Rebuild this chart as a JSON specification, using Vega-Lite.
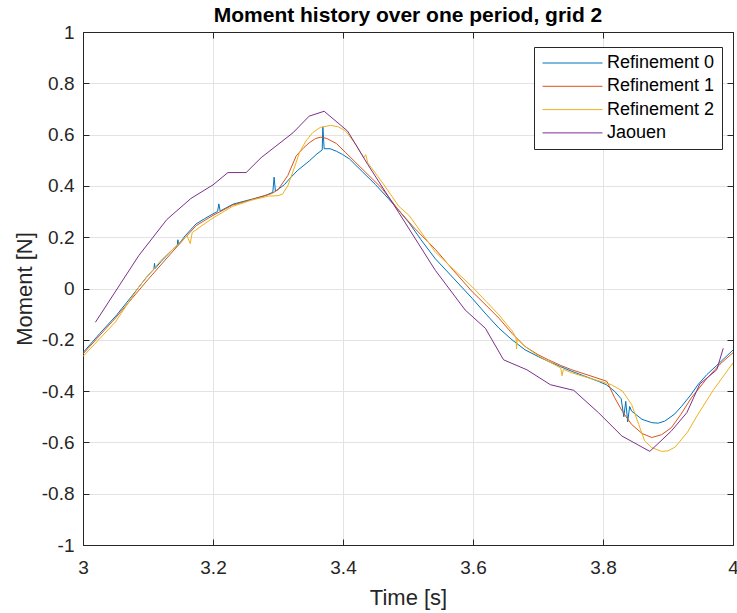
{
  "$schema": "https://vega.github.io/schema/vega-lite/v6.json",
  "width": 650,
  "height": 513,
  "autosize": {"type": "none"},
  "padding": {"left": 83, "top": 32, "right": 4, "bottom": 68},
  "title": {"text": "Moment history over one period, grid 2", "fontSize": 21, "fontWeight": "bold", "font": "Liberation Sans", "color": "#000000", "offset": -3, "anchor": "middle"},
  "config": {"view": {"stroke": "#262626", "strokeWidth": 1}, "font": "Liberation Sans"},
  "data": {"values": [
    {"s":"Refinement 0","t":3.000,"m":-0.250},
    {"s":"Refinement 0","t":3.026,"m":-0.175},
    {"s":"Refinement 0","t":3.052,"m":-0.103},
    {"s":"Refinement 0","t":3.075,"m":-0.030},
    {"s":"Refinement 0","t":3.098,"m":0.045},
    {"s":"Refinement 0","t":3.109,"m":0.075},
    {"s":"Refinement 0","t":3.110,"m":0.098},
    {"s":"Refinement 0","t":3.111,"m":0.078},
    {"s":"Refinement 0","t":3.120,"m":0.105},
    {"s":"Refinement 0","t":3.139,"m":0.155},
    {"s":"Refinement 0","t":3.145,"m":0.168},
    {"s":"Refinement 0","t":3.146,"m":0.190},
    {"s":"Refinement 0","t":3.147,"m":0.172},
    {"s":"Refinement 0","t":3.157,"m":0.205},
    {"s":"Refinement 0","t":3.174,"m":0.252},
    {"s":"Refinement 0","t":3.187,"m":0.272},
    {"s":"Refinement 0","t":3.200,"m":0.291},
    {"s":"Refinement 0","t":3.207,"m":0.300},
    {"s":"Refinement 0","t":3.209,"m":0.330},
    {"s":"Refinement 0","t":3.211,"m":0.302},
    {"s":"Refinement 0","t":3.231,"m":0.329},
    {"s":"Refinement 0","t":3.261,"m":0.349},
    {"s":"Refinement 0","t":3.280,"m":0.362},
    {"s":"Refinement 0","t":3.292,"m":0.375},
    {"s":"Refinement 0","t":3.294,"m":0.434},
    {"s":"Refinement 0","t":3.296,"m":0.380},
    {"s":"Refinement 0","t":3.301,"m":0.388},
    {"s":"Refinement 0","t":3.310,"m":0.405},
    {"s":"Refinement 0","t":3.317,"m":0.426},
    {"s":"Refinement 0","t":3.330,"m":0.460},
    {"s":"Refinement 0","t":3.348,"m":0.497},
    {"s":"Refinement 0","t":3.360,"m":0.525},
    {"s":"Refinement 0","t":3.368,"m":0.540},
    {"s":"Refinement 0","t":3.369,"m":0.630},
    {"s":"Refinement 0","t":3.371,"m":0.545},
    {"s":"Refinement 0","t":3.380,"m":0.545},
    {"s":"Refinement 0","t":3.390,"m":0.535},
    {"s":"Refinement 0","t":3.399,"m":0.523},
    {"s":"Refinement 0","t":3.410,"m":0.505},
    {"s":"Refinement 0","t":3.430,"m":0.455},
    {"s":"Refinement 0","t":3.450,"m":0.405},
    {"s":"Refinement 0","t":3.470,"m":0.350},
    {"s":"Refinement 0","t":3.486,"m":0.304},
    {"s":"Refinement 0","t":3.502,"m":0.255},
    {"s":"Refinement 0","t":3.520,"m":0.190},
    {"s":"Refinement 0","t":3.542,"m":0.116},
    {"s":"Refinement 0","t":3.570,"m":0.040},
    {"s":"Refinement 0","t":3.599,"m":-0.039},
    {"s":"Refinement 0","t":3.620,"m":-0.100},
    {"s":"Refinement 0","t":3.640,"m":-0.155},
    {"s":"Refinement 0","t":3.660,"m":-0.200},
    {"s":"Refinement 0","t":3.680,"m":-0.239},
    {"s":"Refinement 0","t":3.700,"m":-0.265},
    {"s":"Refinement 0","t":3.716,"m":-0.284},
    {"s":"Refinement 0","t":3.735,"m":-0.305},
    {"s":"Refinement 0","t":3.752,"m":-0.323},
    {"s":"Refinement 0","t":3.770,"m":-0.340},
    {"s":"Refinement 0","t":3.793,"m":-0.362},
    {"s":"Refinement 0","t":3.805,"m":-0.375},
    {"s":"Refinement 0","t":3.818,"m":-0.401},
    {"s":"Refinement 0","t":3.828,"m":-0.430},
    {"s":"Refinement 0","t":3.832,"m":-0.500},
    {"s":"Refinement 0","t":3.835,"m":-0.440},
    {"s":"Refinement 0","t":3.838,"m":-0.520},
    {"s":"Refinement 0","t":3.841,"m":-0.460},
    {"s":"Refinement 0","t":3.844,"m":-0.478},
    {"s":"Refinement 0","t":3.860,"m":-0.510},
    {"s":"Refinement 0","t":3.875,"m":-0.523},
    {"s":"Refinement 0","t":3.885,"m":-0.525},
    {"s":"Refinement 0","t":3.895,"m":-0.517},
    {"s":"Refinement 0","t":3.910,"m":-0.490},
    {"s":"Refinement 0","t":3.921,"m":-0.459},
    {"s":"Refinement 0","t":3.935,"m":-0.415},
    {"s":"Refinement 0","t":3.946,"m":-0.375},
    {"s":"Refinement 0","t":3.960,"m":-0.335},
    {"s":"Refinement 0","t":3.975,"m":-0.300},
    {"s":"Refinement 0","t":4.000,"m":-0.240},

    {"s":"Refinement 1","t":3.000,"m":-0.255},
    {"s":"Refinement 1","t":3.050,"m":-0.115},
    {"s":"Refinement 1","t":3.100,"m":0.035},
    {"s":"Refinement 1","t":3.140,"m":0.150},
    {"s":"Refinement 1","t":3.174,"m":0.245},
    {"s":"Refinement 1","t":3.200,"m":0.285},
    {"s":"Refinement 1","t":3.230,"m":0.325},
    {"s":"Refinement 1","t":3.260,"m":0.347},
    {"s":"Refinement 1","t":3.290,"m":0.370},
    {"s":"Refinement 1","t":3.300,"m":0.385},
    {"s":"Refinement 1","t":3.315,"m":0.440},
    {"s":"Refinement 1","t":3.328,"m":0.517},
    {"s":"Refinement 1","t":3.340,"m":0.550},
    {"s":"Refinement 1","t":3.348,"m":0.568},
    {"s":"Refinement 1","t":3.358,"m":0.585},
    {"s":"Refinement 1","t":3.366,"m":0.590},
    {"s":"Refinement 1","t":3.375,"m":0.585},
    {"s":"Refinement 1","t":3.390,"m":0.565},
    {"s":"Refinement 1","t":3.404,"m":0.530},
    {"s":"Refinement 1","t":3.420,"m":0.490},
    {"s":"Refinement 1","t":3.440,"m":0.440},
    {"s":"Refinement 1","t":3.460,"m":0.390},
    {"s":"Refinement 1","t":3.486,"m":0.304},
    {"s":"Refinement 1","t":3.510,"m":0.235},
    {"s":"Refinement 1","t":3.542,"m":0.153},
    {"s":"Refinement 1","t":3.570,"m":0.070},
    {"s":"Refinement 1","t":3.599,"m":-0.013},
    {"s":"Refinement 1","t":3.620,"m":-0.065},
    {"s":"Refinement 1","t":3.640,"m":-0.116},
    {"s":"Refinement 1","t":3.660,"m":-0.175},
    {"s":"Refinement 1","t":3.680,"m":-0.226},
    {"s":"Refinement 1","t":3.700,"m":-0.258},
    {"s":"Refinement 1","t":3.716,"m":-0.278},
    {"s":"Refinement 1","t":3.735,"m":-0.300},
    {"s":"Refinement 1","t":3.752,"m":-0.317},
    {"s":"Refinement 1","t":3.780,"m":-0.340},
    {"s":"Refinement 1","t":3.806,"m":-0.362},
    {"s":"Refinement 1","t":3.818,"m":-0.426},
    {"s":"Refinement 1","t":3.830,"m":-0.480},
    {"s":"Refinement 1","t":3.844,"m":-0.530},
    {"s":"Refinement 1","t":3.860,"m":-0.565},
    {"s":"Refinement 1","t":3.875,"m":-0.581},
    {"s":"Refinement 1","t":3.890,"m":-0.570},
    {"s":"Refinement 1","t":3.905,"m":-0.543},
    {"s":"Refinement 1","t":3.920,"m":-0.490},
    {"s":"Refinement 1","t":3.936,"m":-0.426},
    {"s":"Refinement 1","t":3.960,"m":-0.350},
    {"s":"Refinement 1","t":3.980,"m":-0.295},
    {"s":"Refinement 1","t":4.000,"m":-0.250},

    {"s":"Refinement 2","t":3.000,"m":-0.265},
    {"s":"Refinement 2","t":3.050,"m":-0.130},
    {"s":"Refinement 2","t":3.087,"m":0.010},
    {"s":"Refinement 2","t":3.120,"m":0.110},
    {"s":"Refinement 2","t":3.160,"m":0.205},
    {"s":"Refinement 2","t":3.165,"m":0.175},
    {"s":"Refinement 2","t":3.168,"m":0.218},
    {"s":"Refinement 2","t":3.180,"m":0.240},
    {"s":"Refinement 2","t":3.200,"m":0.275},
    {"s":"Refinement 2","t":3.230,"m":0.320},
    {"s":"Refinement 2","t":3.260,"m":0.345},
    {"s":"Refinement 2","t":3.285,"m":0.360},
    {"s":"Refinement 2","t":3.300,"m":0.362},
    {"s":"Refinement 2","t":3.307,"m":0.368},
    {"s":"Refinement 2","t":3.315,"m":0.400},
    {"s":"Refinement 2","t":3.325,"m":0.470},
    {"s":"Refinement 2","t":3.333,"m":0.530},
    {"s":"Refinement 2","t":3.343,"m":0.575},
    {"s":"Refinement 2","t":3.353,"m":0.607},
    {"s":"Refinement 2","t":3.365,"m":0.628},
    {"s":"Refinement 2","t":3.381,"m":0.636},
    {"s":"Refinement 2","t":3.393,"m":0.630},
    {"s":"Refinement 2","t":3.404,"m":0.614},
    {"s":"Refinement 2","t":3.420,"m":0.560},
    {"s":"Refinement 2","t":3.432,"m":0.510},
    {"s":"Refinement 2","t":3.435,"m":0.522},
    {"s":"Refinement 2","t":3.438,"m":0.490},
    {"s":"Refinement 2","t":3.460,"m":0.415},
    {"s":"Refinement 2","t":3.486,"m":0.320},
    {"s":"Refinement 2","t":3.502,"m":0.284},
    {"s":"Refinement 2","t":3.542,"m":0.142},
    {"s":"Refinement 2","t":3.570,"m":0.075},
    {"s":"Refinement 2","t":3.599,"m":0.006},
    {"s":"Refinement 2","t":3.620,"m":-0.050},
    {"s":"Refinement 2","t":3.640,"m":-0.103},
    {"s":"Refinement 2","t":3.660,"m":-0.165},
    {"s":"Refinement 2","t":3.666,"m":-0.190},
    {"s":"Refinement 2","t":3.667,"m":-0.235},
    {"s":"Refinement 2","t":3.668,"m":-0.198},
    {"s":"Refinement 2","t":3.680,"m":-0.226},
    {"s":"Refinement 2","t":3.700,"m":-0.262},
    {"s":"Refinement 2","t":3.716,"m":-0.284},
    {"s":"Refinement 2","t":3.735,"m":-0.310},
    {"s":"Refinement 2","t":3.737,"m":-0.340},
    {"s":"Refinement 2","t":3.739,"m":-0.315},
    {"s":"Refinement 2","t":3.752,"m":-0.329},
    {"s":"Refinement 2","t":3.780,"m":-0.350},
    {"s":"Refinement 2","t":3.800,"m":-0.365},
    {"s":"Refinement 2","t":3.813,"m":-0.375},
    {"s":"Refinement 2","t":3.830,"m":-0.400},
    {"s":"Refinement 2","t":3.844,"m":-0.452},
    {"s":"Refinement 2","t":3.855,"m":-0.530},
    {"s":"Refinement 2","t":3.864,"m":-0.594},
    {"s":"Refinement 2","t":3.875,"m":-0.620},
    {"s":"Refinement 2","t":3.890,"m":-0.635},
    {"s":"Refinement 2","t":3.900,"m":-0.633},
    {"s":"Refinement 2","t":3.911,"m":-0.618},
    {"s":"Refinement 2","t":3.930,"m":-0.560},
    {"s":"Refinement 2","t":3.946,"m":-0.491},
    {"s":"Refinement 2","t":3.970,"m":-0.395},
    {"s":"Refinement 2","t":4.000,"m":-0.290},

    {"s":"Jaouen","t":3.019,"m":-0.132},
    {"s":"Jaouen","t":3.086,"m":0.129},
    {"s":"Jaouen","t":3.129,"m":0.269},
    {"s":"Jaouen","t":3.166,"m":0.351},
    {"s":"Jaouen","t":3.200,"m":0.404},
    {"s":"Jaouen","t":3.223,"m":0.452},
    {"s":"Jaouen","t":3.251,"m":0.452},
    {"s":"Jaouen","t":3.274,"m":0.510},
    {"s":"Jaouen","t":3.323,"m":0.607},
    {"s":"Jaouen","t":3.348,"m":0.672},
    {"s":"Jaouen","t":3.371,"m":0.691},
    {"s":"Jaouen","t":3.407,"m":0.614},
    {"s":"Jaouen","t":3.438,"m":0.484},
    {"s":"Jaouen","t":3.486,"m":0.295},
    {"s":"Jaouen","t":3.542,"m":0.071},
    {"s":"Jaouen","t":3.588,"m":-0.084},
    {"s":"Jaouen","t":3.619,"m":-0.155},
    {"s":"Jaouen","t":3.647,"m":-0.278},
    {"s":"Jaouen","t":3.683,"m":-0.317},
    {"s":"Jaouen","t":3.719,"m":-0.375},
    {"s":"Jaouen","t":3.755,"m":-0.397},
    {"s":"Jaouen","t":3.793,"m":-0.484},
    {"s":"Jaouen","t":3.829,"m":-0.575},
    {"s":"Jaouen","t":3.872,"m":-0.635},
    {"s":"Jaouen","t":3.905,"m":-0.556},
    {"s":"Jaouen","t":3.929,"m":-0.484},
    {"s":"Jaouen","t":3.949,"m":-0.372},
    {"s":"Jaouen","t":3.975,"m":-0.317},
    {"s":"Jaouen","t":3.985,"m":-0.233}
  ]},
  "layer": [
    {
      "mark": {"type": "line", "strokeWidth": 1, "clip": true},
      "encoding": {
        "x": {"field": "t", "type": "quantitative", "scale": {"domain": [3, 4], "nice": false, "zero": false},
          "axis": {"title": "Time [s]", "values": [3, 3.2, 3.4, 3.6, 3.8, 4], "labelExpr": "'' + datum.value", "grid": true, "gridColor": "#e3e3e3", "domainColor": "#262626", "tickColor": "#262626", "tickSize": -6, "labelPadding": 19, "labelFontSize": 19, "labelColor": "#262626", "labelFont": "Liberation Sans", "titleFontSize": 22, "titleFontWeight": "normal", "titleColor": "#262626", "titleFont": "Liberation Sans", "titlePadding": 10, "labelFlush": false}},
        "y": {"field": "m", "type": "quantitative", "scale": {"domain": [-1, 1], "nice": false, "zero": false},
          "axis": {"title": "Moment [N]", "values": [-1, -0.8, -0.6, -0.4, -0.2, 0, 0.2, 0.4, 0.6, 0.8, 1], "labelExpr": "'' + datum.value", "grid": true, "gridColor": "#e3e3e3", "domainColor": "#262626", "tickColor": "#262626", "tickSize": -6, "labelPadding": 15, "labelFontSize": 19, "labelColor": "#262626", "labelFont": "Liberation Sans", "titleFontSize": 22, "titleFontWeight": "normal", "titleColor": "#262626", "titleFont": "Liberation Sans", "titlePadding": 5, "labelFlush": false}},
        "color": {"field": "s", "type": "nominal",
          "scale": {"domain": ["Refinement 0", "Refinement 1", "Refinement 2", "Jaouen"], "range": ["#0072BD", "#D95319", "#EDB120", "#7E2F8E"]},
          "legend": {"title": null, "orient": "none", "legendX": 451, "legendY": 15, "symbolType": "M-1,0H7", "symbolSize": 225, "symbolStrokeWidth": 1, "symbolFillColor": "transparent", "labelOffset": 48, "labelFontSize": 18, "labelFont": "Liberation Sans", "labelColor": "#000000", "strokeColor": "#262626", "fillColor": "#ffffff", "padding": 7, "rowPadding": 5.3}}
      }
    },
    {
      "mark": {"type": "line", "opacity": 0},
      "encoding": {
        "x": {"field": "t", "type": "quantitative", "scale": {"domain": [3, 4], "nice": false, "zero": false},
          "axis": {"orient": "top", "title": null, "labels": false, "grid": false, "values": [3, 3.2, 3.4, 3.6, 3.8, 4], "domainColor": "#262626", "tickColor": "#262626", "tickSize": -6}},
        "y": {"field": "m", "type": "quantitative", "scale": {"domain": [-1, 1], "nice": false, "zero": false},
          "axis": {"orient": "right", "title": null, "labels": false, "grid": false, "values": [-1, -0.8, -0.6, -0.4, -0.2, 0, 0.2, 0.4, 0.6, 0.8, 1], "domainColor": "#262626", "tickColor": "#262626", "tickSize": -6}}
      }
    }
  ],
  "resolve": {"axis": {"x": "independent", "y": "independent"}}
}
